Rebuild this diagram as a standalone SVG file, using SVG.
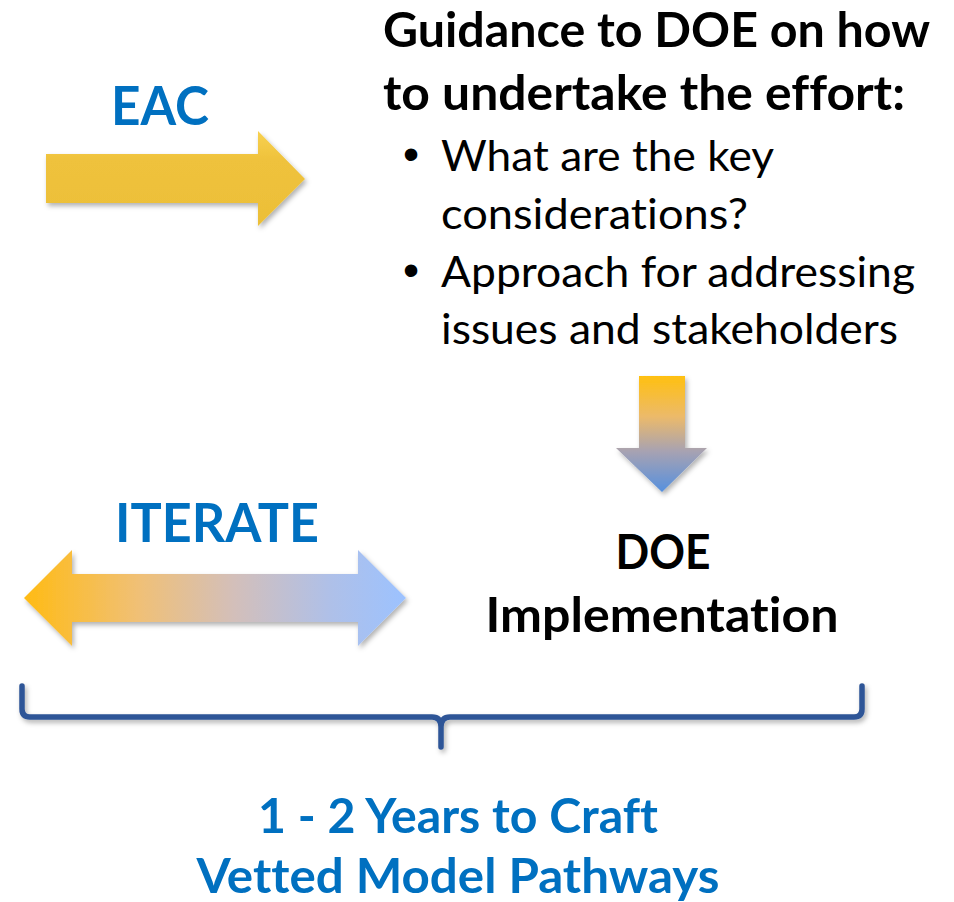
<svg xmlns="http://www.w3.org/2000/svg" width="954" height="902" viewBox="0 0 954 902">
  <defs>
    <filter id="sh" x="-10%" y="-20%" width="130%" height="150%">
      <feDropShadow dx="2" dy="3" stdDeviation="2.5" flood-color="#000" flood-opacity="0.3"/>
    </filter>
    <linearGradient id="gEac" x1="0" y1="0" x2="0" y2="1">
      <stop offset="0" stop-color="#F8D150"/>
      <stop offset="0.3" stop-color="#EFC23C"/>
      <stop offset="1" stop-color="#ECBF38"/>
    </linearGradient>
    <linearGradient id="gDown" gradientUnits="userSpaceOnUse" x1="0" y1="376" x2="0" y2="492">
      <stop offset="0" stop-color="#FFC010"/>
      <stop offset="0.35" stop-color="#ECBA6A"/>
      <stop offset="0.65" stop-color="#A7A2B2"/>
      <stop offset="1" stop-color="#5690DE"/>
    </linearGradient>
    <linearGradient id="gIter" gradientUnits="userSpaceOnUse" x1="24" y1="0" x2="406" y2="0">
      <stop offset="0" stop-color="#FFBB14"/>
      <stop offset="0.3" stop-color="#F0C076"/>
      <stop offset="0.55" stop-color="#D3BFBA"/>
      <stop offset="0.8" stop-color="#AFC0E8"/>
      <stop offset="1" stop-color="#9CC2FF"/>
    </linearGradient>
    <style>
      text { font-variant-ligatures: none; font-feature-settings: "liga" 0, "dlig" 0; }
      .blue { font-family: Lato, "Open Sans", sans-serif; font-weight: bold; fill: #0070C0; }
      .bold { font-family: Lato, "Open Sans", sans-serif; font-weight: bold; fill: #000; }
      .reg { font-family: Lato, "Open Sans", sans-serif; font-weight: normal; fill: #000; font-size: 43px; }
      .bul { font-family: "Liberation Sans", Arial, sans-serif; fill: #000; font-size: 46px; }
      .brace { fill: none; stroke: #2F5597; stroke-width: 5.5; stroke-linecap: round; stroke-linejoin: round; }
    </style>
  </defs>

  <g id="eac">
    <text class="blue" x="160" y="125" font-size="54" text-anchor="middle" textLength="98" lengthAdjust="spacingAndGlyphs">EAC</text>
    <path d="M46,154 H258 V131 L305,179 L258,226 V203 H46 Z" fill="url(#gEac)" filter="url(#sh)"/>
  </g>

  <g id="guidance">
    <text class="bold" x="383" y="47" font-size="48" textLength="547" lengthAdjust="spacingAndGlyphs">Guidance to DOE on how</text>
    <text class="bold" x="383" y="110" font-size="48" textLength="522" lengthAdjust="spacingAndGlyphs">to undertake the effort:</text>
    <text class="bul" x="411" y="170" text-anchor="middle">•</text>
    <text class="reg" x="441" y="171" textLength="333" lengthAdjust="spacingAndGlyphs">What are the key</text>
    <text class="reg" x="441" y="229" textLength="307" lengthAdjust="spacingAndGlyphs">considerations?</text>
    <text class="bul" x="411" y="286" text-anchor="middle">•</text>
    <text class="reg" x="441" y="287" textLength="474" lengthAdjust="spacingAndGlyphs">Approach for addressing</text>
    <text class="reg" x="441" y="344" textLength="457" lengthAdjust="spacingAndGlyphs">issues and stakeholders</text>
  </g>

  <g id="down-arrow">
    <path d="M639,376 H685 V448 H707 L662,492 L616,448 H639 Z" fill="url(#gDown)" filter="url(#sh)"/>
  </g>

  <g id="iterate">
    <text class="blue" x="217" y="542" font-size="54" text-anchor="middle" textLength="204" lengthAdjust="spacingAndGlyphs">ITERATE</text>
    <path d="M24,598 L72,550 V574 H358 V550 L406,598 L358,646 V622 H72 V646 Z" fill="url(#gIter)" filter="url(#sh)"/>
  </g>

  <g id="doe-implementation">
    <text class="bold" x="663" y="569" font-size="48" text-anchor="middle" textLength="95" lengthAdjust="spacingAndGlyphs">DOE</text>
    <text class="bold" x="662" y="632" font-size="48" text-anchor="middle" textLength="353" lengthAdjust="spacingAndGlyphs">Implementation</text>
  </g>

  <g id="connectors">
    <path class="brace" filter="url(#sh)" d="M22,686 V709 Q22,717 30,717 H432 Q441,717 441,727 V747 M441,727 Q441,717 450,717 H854 Q862,717 862,709 V686"/>
  </g>

  <g id="timeline">
    <text class="blue" x="458" y="833" font-size="48" text-anchor="middle" textLength="400" lengthAdjust="spacingAndGlyphs">1 - 2 Years to Craft</text>
    <text class="blue" x="458" y="893" font-size="48" text-anchor="middle" textLength="523" lengthAdjust="spacingAndGlyphs">Vetted Model Pathways</text>
  </g>
</svg>
